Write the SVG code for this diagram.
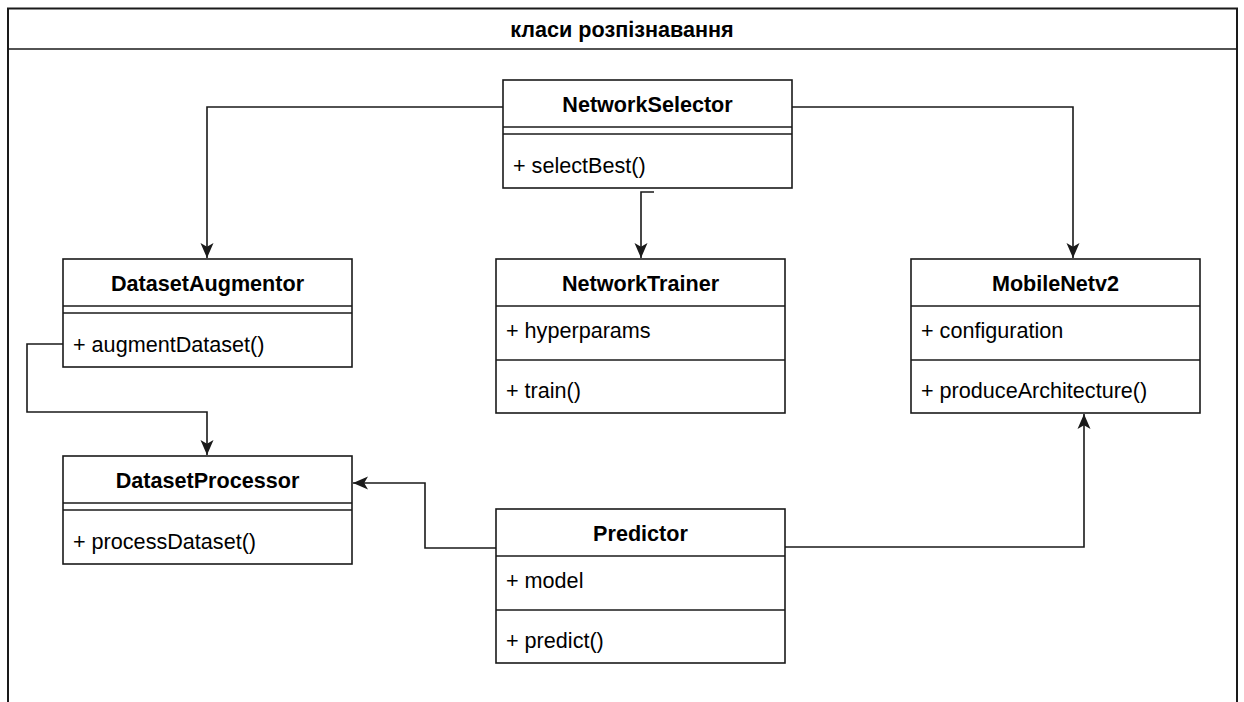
<svg xmlns="http://www.w3.org/2000/svg" width="1244" height="702" viewBox="0 0 1244 702">
<style>
.frame{fill:#fff;stroke:#1a1a1a;stroke-width:2}
.box{fill:#fff;stroke:#1a1a1a;stroke-width:1.6}
.sep{stroke:#1a1a1a;stroke-width:1.6;fill:none}
.edge{fill:none;stroke:#1a1a1a;stroke-width:1.6}
.title{font-family:"Liberation Sans",Arial,sans-serif;font-size:21.6px;font-weight:bold;fill:#000;text-anchor:middle}
.head{font-family:"Liberation Sans",Arial,sans-serif;font-size:21.6px;font-weight:bold;fill:#000;text-anchor:middle}
.row{font-family:"Liberation Sans",Arial,sans-serif;font-size:21.6px;fill:#000}
</style>
<defs>
<marker id="arr" markerUnits="userSpaceOnUse" viewBox="0 0 16 16" refX="15" refY="8" markerWidth="16" markerHeight="16" orient="auto">
<path d="M0,1.5 L15,8 L0,14.5 L3.8,8 Z" fill="#1a1a1a" stroke="none"/>
</marker>
</defs>
<g id="frame">
<rect class="frame" x="8" y="8.5" width="1229" height="720"/>
<line class="sep" x1="8" y1="49" x2="1237" y2="49" stroke-width="2"/>
<text class="title" x="622" y="36.5">класи розпізнавання</text>
</g>
<g id="connectors">
<path class="edge" d="M503,107 H207 V258" marker-end="url(#arr)"/>
<path class="edge" d="M792,107 H1073 V258" marker-end="url(#arr)"/>
<path class="edge" d="M654,192 H641 V258" marker-end="url(#arr)"/>
<path class="edge" d="M63,344 H27 V412 H207 V455" marker-end="url(#arr)"/>
<path class="edge" d="M496,548 H425 V483 H353" marker-end="url(#arr)"/>
<path class="edge" d="M785,547 H1084 V414" marker-end="url(#arr)"/>
</g>
<g id="NetworkSelector">
<rect class="box" x="503" y="80" width="289" height="108"/>
<line class="sep" x1="503" y1="127" x2="792" y2="127"/>
<line class="sep" x1="503" y1="134" x2="792" y2="134"/>
<text class="head" x="647.5" y="111.5">NetworkSelector</text>
<text class="row" x="513" y="172.5">+ selectBest()</text>
</g>
<g id="DatasetAugmentor">
<rect class="box" x="63" y="259" width="289" height="108"/>
<line class="sep" x1="63" y1="306" x2="352" y2="306"/>
<line class="sep" x1="63" y1="313" x2="352" y2="313"/>
<text class="head" x="207.5" y="290.5">DatasetAugmentor</text>
<text class="row" x="73" y="351.5">+ augmentDataset()</text>
</g>
<g id="NetworkTrainer">
<rect class="box" x="496" y="259" width="289" height="154"/>
<line class="sep" x1="496" y1="306" x2="785" y2="306"/>
<line class="sep" x1="496" y1="360" x2="785" y2="360"/>
<text class="head" x="640.5" y="290.5">NetworkTrainer</text>
<text class="row" x="506" y="337.5">+ hyperparams</text>
<text class="row" x="506" y="398">+ train()</text>
</g>
<g id="MobileNetv2">
<rect class="box" x="911" y="259" width="289" height="154"/>
<line class="sep" x1="911" y1="306" x2="1200" y2="306"/>
<line class="sep" x1="911" y1="360" x2="1200" y2="360"/>
<text class="head" x="1055.5" y="290.5">MobileNetv2</text>
<text class="row" x="921" y="337.5">+ configuration</text>
<text class="row" x="921" y="398">+ produceArchitecture()</text>
</g>
<g id="DatasetProcessor">
<rect class="box" x="63" y="456" width="289" height="108"/>
<line class="sep" x1="63" y1="503" x2="352" y2="503"/>
<line class="sep" x1="63" y1="510" x2="352" y2="510"/>
<text class="head" x="207.5" y="487.5">DatasetProcessor</text>
<text class="row" x="73" y="548.5">+ processDataset()</text>
</g>
<g id="Predictor">
<rect class="box" x="496" y="509" width="289" height="154"/>
<line class="sep" x1="496" y1="556" x2="785" y2="556"/>
<line class="sep" x1="496" y1="610" x2="785" y2="610"/>
<text class="head" x="640.5" y="540.5">Predictor</text>
<text class="row" x="506" y="587.5">+ model</text>
<text class="row" x="506" y="648">+ predict()</text>
</g>
</svg>
